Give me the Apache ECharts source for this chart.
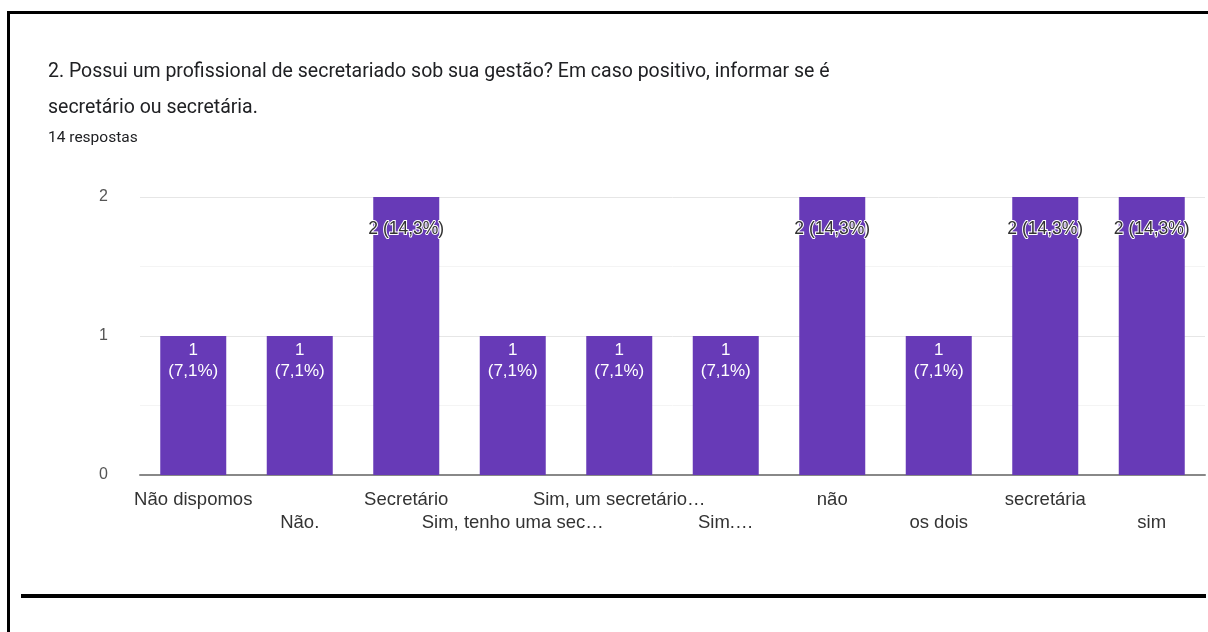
<!DOCTYPE html>
<html>
<head>
<meta charset="utf-8">
<script src="https://cdn.jsdelivr.net/npm/echarts@6/dist/echarts.min.js"></script>
<style>
  html, body { margin: 0; padding: 0; background: #fff; }
  #chart { width: 1208px; height: 632px; }
</style>
</head>
<body>
<div id="chart"></div>
<script>
// respostas
const categories = ['Não dispomos', 'Não.', 'Secretário', 'Sim, tenho uma sec…', 'Sim, um secretário…',
  'Sim.…', 'não', 'os dois', 'secretária', 'sim'];
const counts = [1, 1, 2, 1, 1, 1, 2, 1, 2, 2];
const percents = ['7,1%', '7,1%', '14,3%', '7,1%', '7,1%', '7,1%', '14,3%', '7,1%', '14,3%', '14,3%'];
const yTicks = [0, 1, 2];

const titleText = '2. Possui um profissional de secretariado sob sua gestão? Em caso positivo, informar se é\nsecretário ou secretária.';
const subText = '14 respostas';

const chart = echarts.init(document.getElementById('chart'));

const option = {
  animation: false,
  title: {
    text: titleText,
    subtext: subText,
    left: 43,
    top: 49,
    itemGap: 4,
    textStyle: { fontFamily: 'Roboto', fontSize: 19.5, fontWeight: 'normal', color: '#202124', lineHeight: 36 },
    subtextStyle: { fontFamily: 'Roboto', fontSize: 15.5, color: '#202124' }
  },
  grid: { left: 140, right: 3, top: 197, bottom: 157 },
  xAxis: {
    type: 'category',
    data: categories,
    axisTick: { show: false },
    axisLine: { lineStyle: { color: '#888', width: 2 } },
    axisLabel: {
      interval: 0,
      margin: 13,
      fontFamily: 'Liberation Sans',
      fontSize: 18.5,
      color: '#333',
      lineHeight: 23,
      formatter: (v, i) => (i % 2 === 0 ? v : '\n' + v)
    }
  },
  yAxis: {
    type: 'value',
    min: 0,
    max: 2,
    interval: 0.5,
    axisLine: { show: false },
    axisTick: { show: false },
    axisLabel: {
      margin: 32,
      fontFamily: 'Liberation Sans',
      fontSize: 16,
      color: '#555',
      formatter: v => (yTicks.includes(v) ? String(v) : '')
    },
    splitLine: { lineStyle: { color: ['#e6e6e6', '#f4f4f4'], width: 1 } }
  },
  series: [{
    type: 'bar',
    data: counts,
    barWidth: 66,
    itemStyle: { color: '#673ab7' },
    label: {
      show: true,
      position: 'insideTop',
      distance: 4,
      fontFamily: 'Liberation Sans',
      fontSize: 17,
      formatter: p => p.value === 1
        ? '{w|' + p.value + '}\n{w|(' + percents[p.dataIndex] + ')}'
        : '{d|' + p.value + ' (' + percents[p.dataIndex] + ')}',
      rich: {
        w: { color: '#fff', fontFamily: 'Liberation Sans', fontSize: 17, lineHeight: 21 },
        d: {
          color: '#333', fontFamily: 'Liberation Sans', fontSize: 17.5, lineHeight: 21,
          padding: [36, 0, 0, 0], textBorderColor: '#fff', textBorderWidth: 2
        }
      }
    }
  }],
  graphic: [
    { type: 'rect', shape: { x: 7, y: 11, width: 1201, height: 3 }, style: { fill: '#000' } },
    { type: 'rect', shape: { x: 7, y: 11, width: 3, height: 621 }, style: { fill: '#000' } },
    { type: 'rect', shape: { x: 21, y: 594, width: 1185, height: 4 }, style: { fill: '#000' } }
  ]
};

chart.setOption(option);
window.addEventListener('resize', () => chart.resize());
</script>
</body>
</html>
